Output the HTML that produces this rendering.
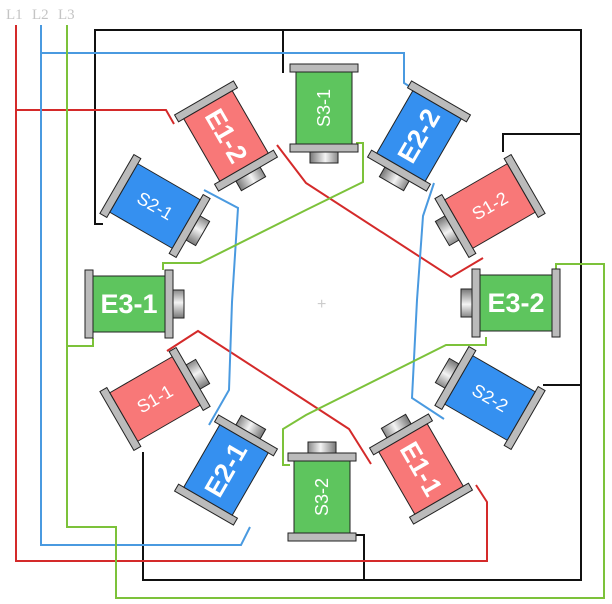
<!DOCTYPE html>
<html><head><meta charset="utf-8"><style>
html,body{margin:0;padding:0;background:#fff;}
svg{display:block;}
.E{font-family:"Liberation Sans",sans-serif;font-size:27px;fill:#fff;font-weight:bold;}
.S{font-family:"Liberation Sans",sans-serif;font-size:18px;fill:#fff;}
</style></head><body>
<svg width="612" height="604" viewBox="0 0 612 604" xmlns="http://www.w3.org/2000/svg">
<defs>
<linearGradient id="kn" x1="0" y1="0" x2="0" y2="1">
<stop offset="0" stop-color="#888"/><stop offset="0.45" stop-color="#f4f4f4"/><stop offset="1" stop-color="#777"/>
</linearGradient>
<g id="coilbase">
<rect x="44" y="-14" width="11" height="28" fill="url(#kn)" stroke="#222" stroke-width="1"/>
<rect x="-44" y="-34" width="8" height="68" fill="#bbb" stroke="#222" stroke-width="1"/>
<rect x="36" y="-34" width="8" height="68" fill="#bbb" stroke="#222" stroke-width="1"/>
</g>
</defs>
<g font-family="Liberation Serif,serif" font-size="15" fill="#c4c4c4">
<text x="6" y="19">L1</text><text x="32" y="19">L2</text><text x="58" y="19">L3</text>
</g>
<g fill="none" stroke-width="2">
<!-- black -->
<polyline stroke="#111" points="103,224 95,224 95,30 581,30 581,580 143,580 143,452" />
<polyline stroke="#111" points="283,30 283,73"/>
<polyline stroke="#111" points="581,134 503,134 503,152"/>
<polyline stroke="#111" points="581,385 543,385"/>
<polyline stroke="#111" points="364,580 364,535 356,535"/>
<!-- red -->
<polyline stroke="#d42a2a" points="16,25 16,561 487,561 487,502 476,485"/>
<polyline stroke="#d42a2a" points="16,110 166,110 174,124"/>
<polyline stroke="#d42a2a" points="277,145 306,183 451,277 483,258"/>
<polyline stroke="#d42a2a" points="167,351 198,331 306,401 349,429 371,464"/>
<!-- blue -->
<polyline stroke="#4a9ae0" points="41,25 41,545 241,545 250,527"/>
<polyline stroke="#4a9ae0" points="41,53 404,53 404,83 412,88"/>
<polyline stroke="#4a9ae0" points="434,183 423,216 417,300 412,398 444,419"/>
<polyline stroke="#4a9ae0" points="204,190 238,208 232,302 229,390 209,425"/>
<!-- green -->
<polyline stroke="#7cc23a" points="67,25 67,527 116,527 116,598 604,598 604,264 556,264 556,270"/>
<polyline stroke="#7cc23a" points="67,346 93,346 93,338"/>
<polyline stroke="#7cc23a" points="163,270 163,263 200,263 306,210 363,182 363,143 356,143"/>
<polyline stroke="#7cc23a" points="486,337 486,345 446,345 306,415 283,429 283,465 290,465"/>
</g>
<text x="317" y="309" font-family="Liberation Sans,sans-serif" font-size="16" fill="#ccc">+</text>

<!-- coils: translate(center) rotate(alpha) -->
<g transform="translate(324,108) rotate(90)"><use href="#coilbase"/><rect x="-36" y="-28" width="72" height="56" fill="#5ec55e" stroke="#222"/></g>
<text class="S" transform="translate(324,108) rotate(-90)" text-anchor="middle" dy="6">S3-1</text>

<g transform="translate(419,136) rotate(120)"><use href="#coilbase"/><rect x="-36" y="-28" width="72" height="56" fill="#3590f0" stroke="#222"/></g>
<text class="E" transform="translate(419,136) rotate(-60)" text-anchor="middle" dy="9">E2-2</text>

<g transform="translate(490,206) rotate(150)"><use href="#coilbase"/><rect x="-36" y="-28" width="72" height="56" fill="#f87878" stroke="#222"/></g>
<text class="S" transform="translate(490,206) rotate(-30)" text-anchor="middle" dy="6">S1-2</text>

<g transform="translate(516,303) rotate(180)"><use href="#coilbase"/><rect x="-36" y="-28" width="72" height="56" fill="#5ec55e" stroke="#222"/></g>
<text class="E" transform="translate(516,303)" text-anchor="middle" dy="9">E3-2</text>

<g transform="translate(490,398) rotate(210)"><use href="#coilbase"/><rect x="-36" y="-28" width="72" height="56" fill="#3590f0" stroke="#222"/></g>
<text class="S" transform="translate(490,398) rotate(30)" text-anchor="middle" dy="6">S2-2</text>

<g transform="translate(421,469) rotate(240)"><use href="#coilbase"/><rect x="-36" y="-28" width="72" height="56" fill="#f87878" stroke="#222"/></g>
<text class="E" transform="translate(421,469) rotate(60)" text-anchor="middle" dy="9">E1-1</text>

<g transform="translate(322,497) rotate(270)"><use href="#coilbase"/><rect x="-36" y="-28" width="72" height="56" fill="#5ec55e" stroke="#222"/></g>
<text class="S" transform="translate(322,497) rotate(-90)" text-anchor="middle" dy="6">S3-2</text>

<g transform="translate(226,470) rotate(300)"><use href="#coilbase"/><rect x="-36" y="-28" width="72" height="56" fill="#3590f0" stroke="#222"/></g>
<text class="E" transform="translate(226,470) rotate(-60)" text-anchor="middle" dy="9">E2-1</text>

<g transform="translate(155,399) rotate(330)"><use href="#coilbase"/><rect x="-36" y="-28" width="72" height="56" fill="#f87878" stroke="#222"/></g>
<text class="S" transform="translate(155,399) rotate(-30)" text-anchor="middle" dy="6">S1-1</text>

<g transform="translate(129,304)"><use href="#coilbase"/><rect x="-36" y="-28" width="72" height="56" fill="#5ec55e" stroke="#222"/></g>
<text class="E" transform="translate(129,304)" text-anchor="middle" dy="9">E3-1</text>

<g transform="translate(155,206) rotate(30)"><use href="#coilbase"/><rect x="-36" y="-28" width="72" height="56" fill="#3590f0" stroke="#222"/></g>
<text class="S" transform="translate(155,206) rotate(30)" text-anchor="middle" dy="6">S2-1</text>

<g transform="translate(226,136) rotate(60)"><use href="#coilbase"/><rect x="-36" y="-28" width="72" height="56" fill="#f87878" stroke="#222"/></g>
<text class="E" transform="translate(226,136) rotate(60)" text-anchor="middle" dy="9">E1-2</text>
</svg>
</body></html>
